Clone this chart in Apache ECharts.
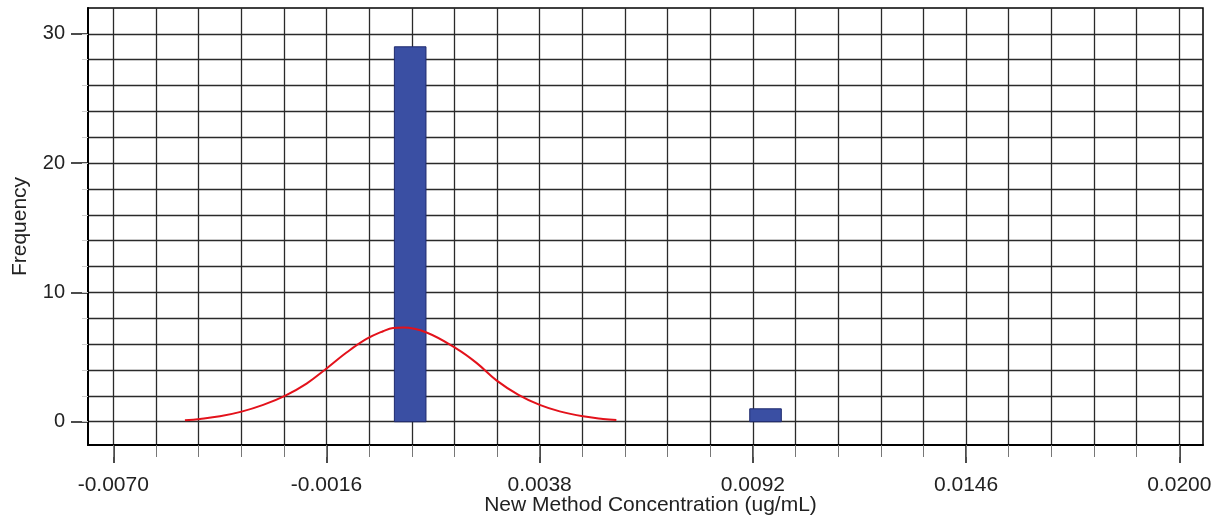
<!DOCTYPE html>
<html>
<head>
<meta charset="utf-8">
<script src="https://cdn.jsdelivr.net/npm/echarts@6/dist/echarts.min.js"></script>
<style>
html,body{margin:0;padding:0;background:#fff;}
#chart{width:1226px;height:522px;}
</style>
</head>
<body>
<div id="chart"></div>
<script>
// ---- data ----
const X_MIN = -0.00764;
const X_MAX = 0.0206;
const Y_MIN = -1.8;
const Y_MAX = 32;
const xMajorTicks = [-0.0070, -0.0016, 0.0038, 0.0092, 0.0146, 0.0200];
const xMinorTicks = [-0.0070, -0.00592, -0.00484, -0.00376, -0.00268, -0.0016, -0.00052, 0.00056, 0.00164, 0.00272,
  0.0038, 0.00488, 0.00596, 0.00704, 0.00812, 0.0092, 0.01028, 0.01136, 0.01244, 0.01352,
  0.0146, 0.01568, 0.01676, 0.01784, 0.01892, 0.0200];
const yMajorTicks = [0, 10, 20, 30];
const yMinorTicks = [0, 2, 4, 6, 8, 10, 12, 14, 16, 18, 20, 22, 24, 26, 28, 30];
// histogram bins: [start, end, frequency]
const binStarts = [0.00012, 0.00912];
const binEnds = [0.00092, 0.00992];
const binCounts = [29, 1];
// fitted normal curve
const curveX = [-0.005185, -0.004805, -0.004299, -0.00375, -0.003203, -0.002654, -0.002104, -0.001598, -0.001092,
  -0.000586, -0.000166, 0.000088, 0.000341, 0.000933, 0.001693, 0.002199, 0.002705, 0.003252, 0.003801, 0.004307,
  0.004897, 0.005403, 0.005742];
const curveY = [0.12, 0.22, 0.42, 0.78, 1.3, 2.0, 2.95, 4.12, 5.35, 6.4, 7.0, 7.25, 7.28, 6.9, 5.65, 4.55, 3.2, 2.1,
  1.3, 0.8, 0.42, 0.22, 0.13];
const xTitle = 'New Method Concentration (ug/mL)';
const yTitle = 'Frequency';

const FONT = '"Liberation Sans", Arial, sans-serif';
const chart = echarts.init(document.getElementById('chart'), null, {renderer: 'canvas'});

const barData = binStarts.map((s, i) => [s, binEnds[i], binCounts[i]]);
const curveData = curveX.map((x, i) => [x, curveY[i]]);

chart.setOption({
  animation: false,
  backgroundColor: '#ffffff',
  grid: {left: 88, top: 8, right: 23, bottom: 77, show: true, borderColor: '#000', borderWidth: 1.5,
    backgroundColor: 'transparent', containLabel: false, outerBoundsMode: 'none'},
  xAxis: [
    {
      type: 'value', min: X_MIN, max: X_MAX, position: 'bottom',
      axisLine: {show: true, onZero: false, lineStyle: {color: '#000', width: 2}},
      axisTick: {show: true, customValues: xMajorTicks, length: 18, lineStyle: {color: '#111', width: 1.5}},
      axisLabel: {show: true, customValues: xMajorTicks, margin: 30, fontFamily: FONT, fontSize: 21, color: '#222',
        formatter: v => v.toFixed(4)},
      splitLine: {show: false},
      name: xTitle, nameLocation: 'middle', nameGap: 50, nameMoveOverlap: false,
      nameTextStyle: {fontFamily: FONT, fontSize: 21, color: '#222', padding: [0, 0, 0, 10]}
    },
    {
      type: 'value', min: X_MIN, max: X_MAX, position: 'bottom',
      axisLine: {show: false, onZero: false},
      axisTick: {show: true, customValues: xMinorTicks, length: 12, lineStyle: {color: '#777', width: 1}},
      axisLabel: {show: false},
      splitLine: {show: true, lineStyle: {color: '#2a2a2a', width: 1.3}}
    }
  ],
  yAxis: [
    {
      type: 'value', min: Y_MIN, max: Y_MAX, position: 'left',
      axisLine: {show: true, onZero: false, lineStyle: {color: '#000', width: 2}},
      axisTick: {show: true, customValues: yMajorTicks, length: 17, lineStyle: {color: '#111', width: 1.5}},
      axisLabel: {show: true, customValues: yMajorTicks, margin: 23, fontFamily: FONT, fontSize: 20, color: '#222'},
      splitLine: {show: false},
      name: yTitle, nameLocation: 'middle', nameGap: 57, nameRotate: 90, nameMoveOverlap: false,
      nameTextStyle: {fontFamily: FONT, fontSize: 21, color: '#222'}
    },
    {
      type: 'value', min: Y_MIN, max: Y_MAX, position: 'left',
      axisLine: {show: false, onZero: false},
      axisTick: {show: true, customValues: yMinorTicks, length: 6, lineStyle: {color: '#ccc', width: 1}},
      axisLabel: {show: false},
      splitLine: {show: true, lineStyle: {color: '#2a2a2a', width: 1.3}}
    }
  ],
  series: [
    {
      type: 'custom', xAxisIndex: 0, yAxisIndex: 0, z: 3,
      data: barData,
      encode: {x: [0, 1], y: 2},
      renderItem: function (params, api) {
        const p0 = api.coord([api.value(0), api.value(2)]);
        const p1 = api.coord([api.value(1), 0]);
        return {
          type: 'rect',
          shape: {x: p0[0], y: p0[1], width: p1[0] - p0[0], height: p1[1] - p0[1]},
          style: {fill: '#3A4FA3', stroke: '#1f2a6e', lineWidth: 1}
        };
      }
    },
    {
      type: 'line', xAxisIndex: 0, yAxisIndex: 0, z: 5,
      data: curveData, smooth: 0.4, symbol: 'none',
      lineStyle: {color: '#e3121b', width: 2}
    }
  ]
});
</script>
</body>
</html>
